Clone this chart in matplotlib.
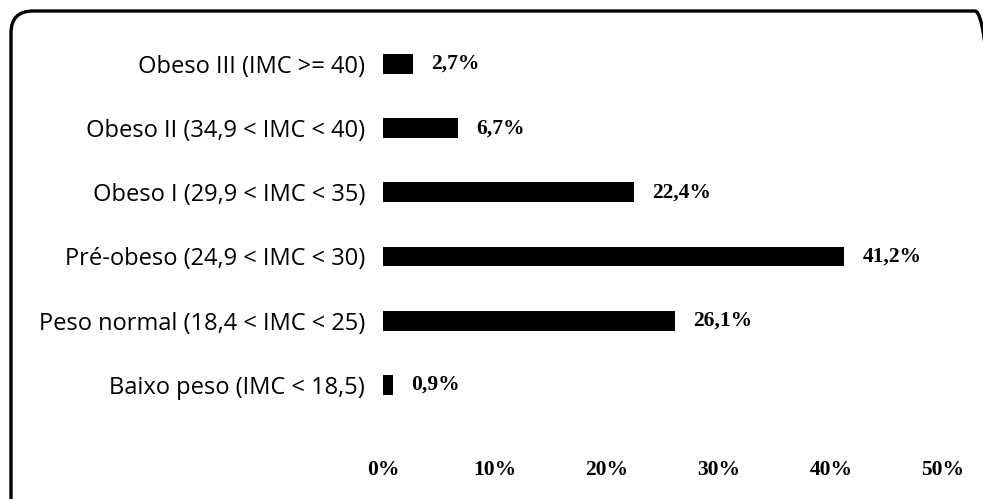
#!/usr/bin/env python3

import matplotlib
matplotlib.use('Agg')
import matplotlib.pyplot as plt
from matplotlib.patches import FancyBboxPatch
from matplotlib.transforms import IdentityTransform
import numpy as np

categories = [
    'Baixo peso (IMC < 18,5)',
    'Peso normal (18,4 < IMC < 25)',
    'Pré-obeso (24,9 < IMC < 30)',
    'Obeso I (29,9 < IMC < 35)',
    'Obeso II (34,9 < IMC < 40)',
    'Obeso III (IMC >= 40)',
]
values = [0.9, 26.1, 41.2, 22.4, 6.7, 2.7]
value_labels = ['0,9%', '26,1%', '41,2%', '22,4%', '6,7%', '2,7%']
xticks = [0, 10, 20, 30, 40, 50]
xtick_labels = ['0%', '10%', '20%', '30%', '40%', '50%']

serif_bold = {'family': 'Liberation Serif', 'weight': 'bold', 'size': 15.5}


def main():
    fig = plt.figure(figsize=(9.83, 4.99), dpi=100)
    ax = fig.add_axes([0.3896, 0.1002, 0.5697, 0.836])

    y = np.arange(len(categories))
    ax.barh(y, values, height=0.31, color='black')

    for yi, v, lab in zip(y, values, value_labels):
        ax.annotate(lab, (v, yi), xytext=(13, 0), textcoords='offset points',
                    ha='left', va='center', **serif_bold)

    ax.set_xlim(0, 50)
    ax.set_ylim(-1.0, 5.5)
    ax.set_yticks(y)
    ax.set_yticklabels(categories, family='Open Sans', fontsize=17)
    ax.set_xticks(xticks)
    ax.set_xticklabels(xtick_labels, fontdict=serif_bold)
    ax.tick_params(axis='y', length=0, pad=13)
    ax.tick_params(axis='x', length=0, pad=8)
    for s in ax.spines.values():
        s.set_visible(False)

    # rounded frame, partly cut by the image edge
    frame = FancyBboxPatch((11, -20), 986, 508,
                           boxstyle='round,pad=0,rounding_size=22',
                           transform=IdentityTransform(),
                           fill=False, edgecolor='black', linewidth=2.4)
    fig.patches.append(frame)

    fig.savefig('out.png', dpi=100)


if __name__ == '__main__':
    main()
